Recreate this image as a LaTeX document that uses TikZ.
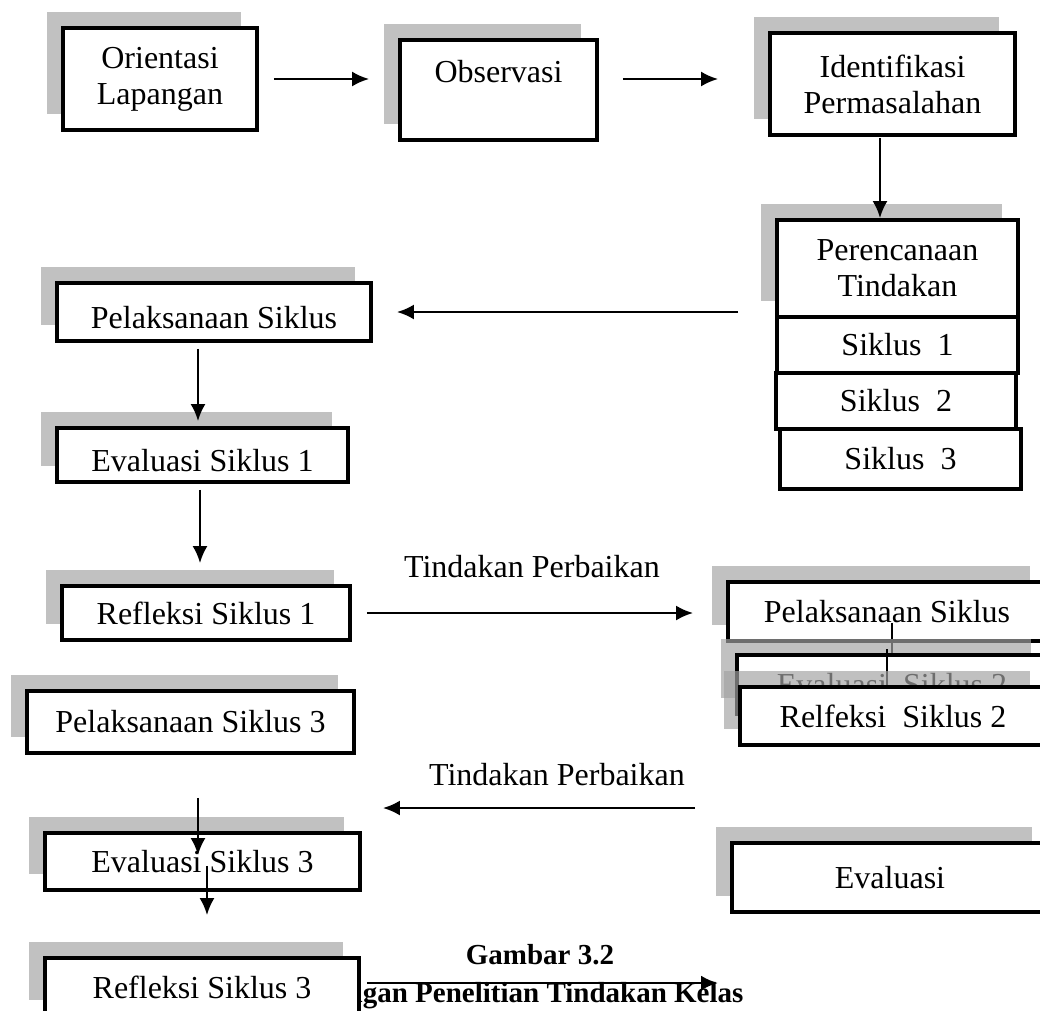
\documentclass[tikz,border=0pt]{standalone}
\usepackage{fontspec}
\setmainfont{Liberation Serif}
\usetikzlibrary{arrows.meta,positioning,shadows}

\begin{document}
\begin{tikzpicture}[x=1pt, y=-1pt, >={Latex[length=17pt,width=15pt]}, line width=2.5pt,
	font=\fontsize{32}{36}\selectfont]
	\tikzstyle{box}=[draw, fill=white, line width=3.8pt, inner sep=0pt, align=center]
	\tikzstyle{boxshadow}=[drop shadow={shadow xshift=-16pt, shadow yshift=16pt, fill=black!36, opacity=.68}]
	\tikzstyle{lowtext}=[text height=32pt, text depth=0pt]
	\tikzstyle{figtext}=[font=\fontsize{29}{34}\selectfont\bfseries]
	\useasboundingbox (0,0) rectangle (1040,1010);
	\clip (0,0) rectangle (1040,1010);
	% % Nodes
	% top row
	\node[box, boxshadow, minimum width=194pt, minimum height=102pt] (ori) at (160,79) {Orientasi\\Lapangan};
	\node[box, boxshadow, minimum width=197pt, minimum height=100pt] (obs) at (498.5,90) {Observasi\\\phantom{O}};
	\node[box, boxshadow, minimum width=245pt, minimum height=102pt] (idf) at (892.5,84) {Identifikasi\\Permasalahan};
	% planning
	\node[box, boxshadow, minimum width=241pt, minimum height=97pt] (per) at (897.5,268.5) {Perencanaan\\Tindakan};
	\node[box, minimum width=241pt, minimum height=56pt] (sk1) at (897.5,345) {Siklus~~1};
	\node[box, minimum width=240pt, minimum height=56pt] (sk2) at (896,401) {Siklus~~2};
	\node[box, minimum width=241pt, minimum height=60pt] (sk3) at (900.5,459) {Siklus~~3};
	% cycle 1
	\node[box, boxshadow, lowtext, minimum width=314pt, minimum height=58pt] (pel1) at (214,312) {Pelaksanaan Siklus};
	\node[box, boxshadow, lowtext, minimum width=291pt, minimum height=54pt] (ev1) at (202.5,455) {Evaluasi Siklus 1};
	\node[box, boxshadow, minimum width=288pt, minimum height=54pt] (ref1) at (206,613) {Refleksi Siklus 1};
	% % Connectors
	\draw[->, shorten <=15pt, shorten >=29pt] (ori.east) -- (ori.east -| obs.west);
	\draw[->, shorten <=24pt, shorten >=50pt] (obs.east |- ori.east) -- (idf.west |- ori.east);
	\draw[->, shorten <=1pt] ([xshift=-12.5pt]idf.south) -- ([xshift=-12.5pt]idf.south |- per.north);
	\draw[->, shorten <=37pt, shorten >=24pt] (pel1.east -| per.west) -- (pel1.east);
	\draw[->, shorten <=6pt, shorten >=5pt] ([xshift=-16pt]pel1.south) -- ([xshift=-16pt]pel1.south |- ev1.north);
	\draw[->, shorten <=6pt, shorten >=21pt] ([xshift=-2.5pt]ev1.south) -- ([xshift=-2.5pt]ev1.south |- ref1.north);
	% cycle 2, stacked
	\node[box, boxshadow, minimum width=318pt, minimum height=59pt] (pel2) at (887,611.5) {Pelaksanaan Siklus};
	\coordinate (e2) at ([xshift=5pt,yshift=-30pt]pel2.south);
	\draw[->] ([xshift=5pt,yshift=-11pt]pel2.center) -- (e2);
	\node[box, boxshadow, minimum width=310pt, minimum height=59pt] (ev2) at (892,684.5) {Evaluasi~~Siklus 2};
	\coordinate (e3) at ([xshift=-5pt,yshift=-50pt]ev2.north);
	\draw[->] ([xshift=-5pt,yshift=4pt]ev2.north) -- (e3);
	\node[box, boxshadow, minimum width=306pt, minimum height=58pt] (rf2) at (893,716) {Relfeksi~~Siklus 2};
	\draw[->, shorten <=15pt, shorten >=33pt] (ref1.east) -- (ref1.east -| pel2.west)
		node[midway, yshift=46pt, xshift=-7pt] {Tindakan Perbaikan};
	% cycle 3
	\node[box, boxshadow, minimum width=327pt, minimum height=62pt] (pel3) at (190.5,722) {Pelaksanaan Siklus 3};
	\node[box, boxshadow, minimum width=315pt, minimum height=57pt] (ev3) at (202.5,861.5) {Evaluasi Siklus 3};
	\node[box, boxshadow, minimum width=316pt, minimum height=69pt] (eva) at (890,877.5) {Evaluasi};
	\draw[->, shorten <=35pt, shorten >=27pt] ([yshift=69.5pt]eva.west) -- ([yshift=69.5pt]eva.west -| pel3.east)
		node[midway, yshift=33pt, xshift=14pt] {Tindakan Perbaikan};
	% caption
	\node[figtext] (fig) at (540,955) {Gambar 3.2};
	\node[figtext, anchor=east] (figtitle) at (748,996) {Rancangan Penelitian Tindakan Kelas};
	\node[box, boxshadow, minimum width=314pt, minimum height=58pt] (rf3) at (202,987) {Refleksi Siklus 3};
	\coordinate (rfend) at (718,983);
	\draw[->, shorten <=43pt, shorten >=-24pt] ([xshift=7.5pt]pel3.south) -- ([xshift=7.5pt]pel3.south |- ev3.north);
	\draw[->, shorten <=-26pt, shorten >=41pt] ([xshift=4.5pt]ev3.south) -- ([xshift=4.5pt]ev3.south |- rf3.north);
	\draw[->, shorten <=6pt] (rf3.east |- rfend) -- (rfend);
\end{tikzpicture}
\end{document}
